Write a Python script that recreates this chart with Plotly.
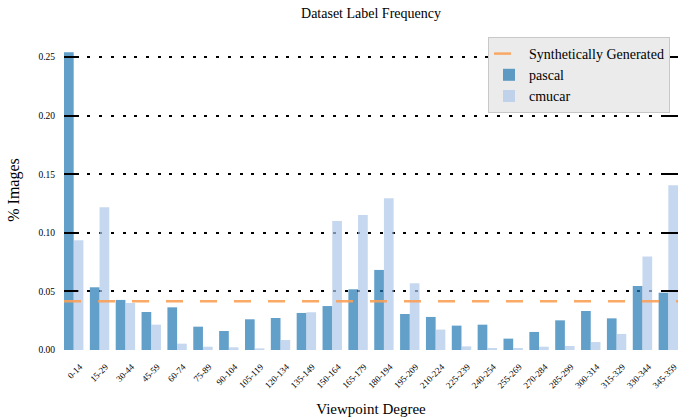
import plotly.graph_objects as go

categories = ["0-14", "15-29", "30-44", "45-59", "60-74", "75-89", "90-104", "105-119",
              "120-134", "135-149", "150-164", "165-179", "180-194", "195-209", "210-224",
              "225-239", "240-254", "255-269", "270-284", "285-299", "300-314", "315-329",
              "330-344", "345-359"]
pascal = [0.254, 0.0535, 0.0427, 0.0324, 0.0364, 0.0199, 0.0162, 0.0262, 0.0273, 0.0316,
          0.0375, 0.0518, 0.0683, 0.0307, 0.0282, 0.0208, 0.0216, 0.0097, 0.0154, 0.0253,
          0.0333, 0.0270, 0.0546, 0.0489]
cmucar = [0.0936, 0.1217, 0.0401, 0.0216, 0.0054, 0.0028, 0.0023, 0.0014, 0.0085, 0.0322,
          0.1100, 0.1152, 0.1294, 0.0569, 0.0174, 0.0031, 0.0017, 0.0017, 0.0028, 0.0034,
          0.0068, 0.0137, 0.0797, 0.1405]
synthetic = 1 / 24
yticks = [0.0, 0.05, 0.10, 0.15, 0.20, 0.25]
ytick_text = ["0.00", "0.05", "0.10", "0.15", "0.20", "0.25"]

W = 0.375
n = len(categories)
idx = list(range(n))
serif = "Liberation Serif, Times New Roman, serif"

fig = go.Figure()
fig.add_trace(go.Bar(
    x=[i + W / 2 for i in idx], y=pascal, width=W, name="pascal",
    marker=dict(color="rgba(31,119,180,0.7)", line=dict(width=0)),
    legendrank=2,
))
fig.add_trace(go.Bar(
    x=[i + 1.5 * W for i in idx], y=cmucar, width=W, name="cmucar",
    marker=dict(color="rgba(174,199,232,0.7)", line=dict(width=0)),
    legendrank=3,
))
fig.add_trace(go.Scatter(
    x=[0, n - 1 + 2 * W], y=[synthetic, synthetic], mode="lines",
    name="Synthetically Generated",
    line=dict(color="rgba(250,160,85,0.9)", width=2.5, dash="17px,17px"),
    legendrank=1,
))

fig.update_layout(
    width=678, height=418,
    margin=dict(l=64, r=0, t=30, b=68, autoexpand=False),
    paper_bgcolor="white", plot_bgcolor="white",
    font=dict(family=serif, color="black"),
    barmode="overlay",
    showlegend=True,
    title=dict(text="Dataset Label Frequency", x=0.5, xref="paper", xanchor="center",
               y=1 - 13 / 418, yanchor="middle", font=dict(size=14, family=serif)),
    legend=dict(x=(670 - 64) / 614, xanchor="right", y=1 - 7 / 320, yanchor="top",
                bgcolor="#ebebeb", bordercolor="#c8c8c8", borderwidth=1,
                font=dict(size=14, family=serif), traceorder="normal",
                itemwidth=30, tracegroupgap=0),
    xaxis=dict(
        range=[0, n - 1 + 2 * W], automargin=False,
        tickmode="array", tickvals=[i + W for i in idx], ticktext=categories,
        tickangle=-45, tickfont=dict(size=9, family=serif),
        ticklabelstandoff=9, ticklabelshift=6, ticklabeloverflow="allow",
        showgrid=False, zeroline=False, showline=False, ticks="",
        title=dict(text="Viewpoint Degree", font=dict(size=15, family=serif), standoff=14),
    ),
    yaxis=dict(
        range=[0, 0.273], automargin=False,
        tickmode="array", tickvals=yticks, ticktext=ytick_text,
        tickfont=dict(size=9.5, family=serif), ticklabelstandoff=8,
        ticks="inside", ticklen=14, tickwidth=1.5, tickcolor="black", mirror="ticks",
        showline=False, zeroline=False,
        showgrid=True, gridcolor="black", gridwidth=1.5, griddash="3px,8.7px",
        title=dict(text="% Images", font=dict(size=16, family=serif), standoff=14),
    ),
)

fig.write_html("out.html", config={"displayModeBar": False},
               post_script="document.body.style.margin='0';")
